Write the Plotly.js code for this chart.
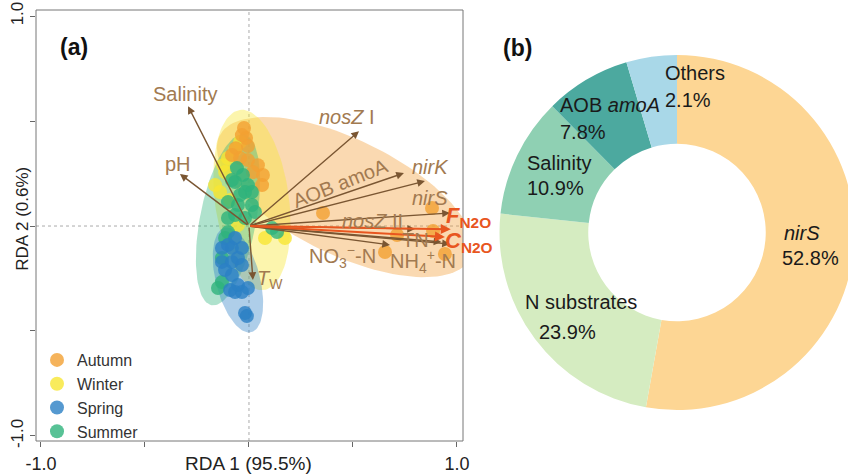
<!DOCTYPE html>
<html><head><meta charset="utf-8">
<script src="https://cdn.plot.ly/plotly-3.0.1.min.js"></script>
<style>html,body{margin:0;padding:0;overflow:hidden;background:#fff;width:848px;height:476px}#plot{width:860px;height:476px}</style>
</head><body><div id="plot"></div>
<script>
// ---------- Panel (a): RDA site scores ----------
const seasons = ['Autumn','Winter','Spring','Summer'];
const seasonColors = ['#f2a032','#f7e633','#2a7fc4','#2eb37c'];

const autumnX = [-0.024,-0.014,-0.005,-0.063,-0.082,-0.043,0.043,0.067,0.019,-0.005,-0.034,0.063,0.356,0.88,0.712,0.885,0.654,0.942];
const autumnY = [0.467,0.419,0.381,0.371,0.338,0.324,0.290,0.243,0.257,0.314,0.433,0.195,0.062,0.086,-0.043,-0.024,-0.124,-0.133];
const winterX = [-0.101,-0.125,-0.163,-0.115,-0.139,0.077,0.173,-0.067,-0.043,-0.091,-0.053];
const winterY = [0.324,0.290,0.195,0.257,0.162,-0.057,-0.057,0.362,0.400,0.124,0.005];
const springX = [-0.067,-0.130,-0.082,-0.034,-0.130,-0.082,-0.115,-0.034,-0.082,-0.053,-0.005,-0.067,-0.034,-0.019,-0.010,-0.101,-0.053,-0.091];
const springY = [-0.057,-0.105,-0.105,-0.105,-0.171,-0.171,-0.210,-0.186,-0.233,-0.281,-0.295,-0.314,-0.314,-0.414,-0.429,-0.090,-0.152,-0.305];
const summerX = [-0.058,-0.029,-0.067,-0.005,-0.019,0.014,-0.101,-0.053,0.014,0.029,-0.067,-0.019,-0.101,-0.101,-0.115,-0.130,-0.149,-0.130,-0.082,-0.043,0.111,0.135];
const summerY = [0.276,0.243,0.210,0.195,0.162,0.162,0.114,0.100,0.100,0.067,0.052,0.038,0.038,-0.029,-0.057,-0.152,-0.295,-0.267,0.219,0.148,-0.010,-0.029];

// confidence ellipses: centre x, centre y, semi-axis a, semi-axis b, angle (deg)
const ellCX = [0.4615, 0.014, -0.053, -0.101];
const ellCY = [0.138, 0.124, -0.257, 0.029];
const ellA  = [0.67, 0.433, 0.257, 0.414];
const ellB  = [0.276, 0.178, 0.106, 0.135];
const ellAng = [-25.6, 97.6, 104.5, 79];

// explanatory variable arrows
const envNames = ['Salinity','pH','<i>nosZ</i> I','AOB amoA','<i>nirK</i>','<i>nirS</i>','<i>nosZ</i> II','TN','NH<sub>4</sub><sup>+</sup>-N','NO<sub>3</sub><sup>−</sup>-N','<i>T</i><sub>W</sub>'];
const envX = [-0.293,-0.332,0.529,0.745,0.846,0.966,0.798,0.925,0.966,0.678,0.019];
const envY = [0.571,0.248,0.452,0.252,0.214,0.062,-0.014,-0.076,-0.086,-0.090,-0.257];
// response arrows
const respNames = ['<b><i>F</i><sub>N2O</sub></b>','<b><i>C</i><sub>N2O</sub></b>'];
const respX = [0.97, 0.942];
const respY = [-0.015, -0.052];

// axis ticks
const tickVals = [-1,-0.5,0,0.5,1];
const tickText = ['-1.0','','','','1.0'];

// ---------- Panel (b): donut ----------
const pieLabels = ['<i>nirS</i>','N substrates','Salinity','AOB <i>amoA</i>','Others'];
const pieValues = [52.8, 23.9, 10.9, 7.8, 4.6];
const pieText = ['52.8%','23.9%','10.9%','7.8%','2.1%'];
const pieColors = ['#fdd694','#d5ecc1','#8fd0b3','#4ca99f','#a9d8e8'];

// ---------- styling / layout helpers ----------
const W = 860, H = 476;
const FONT = 'Liberation Sans, Arial, sans-serif';
const brownText = '#a27a50', brownLine = '#7a5632', red = '#e8561f';
const seasonData = [[autumnX,autumnY],[winterX,winterY],[springX,springY],[summerX,summerY]];
const ellFill = ['rgba(242,160,60,0.40)','rgba(247,230,51,0.40)','rgba(42,127,196,0.38)','rgba(46,179,124,0.38)'];

function ellipse(i){
  const xs=[], ys=[]; const p = ellAng[i]*Math.PI/180;
  for(let k=0;k<=120;k++){
    const t = 2*Math.PI*k/120;
    const u = ellA[i]*Math.cos(t), v = ellB[i]*Math.sin(t);
    xs.push(ellCX[i] + u*Math.cos(p) - v*Math.sin(p));
    ys.push(ellCY[i] + u*Math.sin(p) + v*Math.cos(p));
  }
  return {x:xs,y:ys};
}

const traces = [];
[0,1,3,2].forEach(i=>{
  const e = ellipse(i);
  traces.push({type:'scatter',mode:'lines',x:e.x,y:e.y,fill:'toself',fillcolor:ellFill[i],
    line:{width:0,color:'rgba(0,0,0,0)'},hoverinfo:'skip',showlegend:false,xaxis:'x',yaxis:'y'});
});
const drawOrder = [1,0,3,2];
drawOrder.forEach(i=>{
  traces.push({type:'scatter',mode:'markers',name:seasons[i],x:seasonData[i][0],y:seasonData[i][1],
    marker:{size:14,color:seasonColors[i],opacity:0.8,line:{width:0}},legendrank:i+1,xaxis:'x',yaxis:'y'});
});
traces.push({type:'pie',labels:pieLabels,values:pieValues,sort:false,direction:'clockwise',rotation:0,hole:0.5,
  marker:{colors:pieColors,line:{width:0}},textinfo:'none',showlegend:false,hoverinfo:'skip',
  domain:{x:[(677-177.5)/W,(677+177.5)/W],y:[(476-232.5-177.5)/H,(476-232.5+177.5)/H]}});

const ann = [];
envX.forEach((x,i)=>{
  ann.push({x:x,y:envY[i],ax:0,ay:0,xref:'x',yref:'y',axref:'x',ayref:'y',text:'',showarrow:true,
    arrowhead:2,arrowsize:1.1,arrowwidth:1.4,arrowcolor:brownLine,standoff:0});
});
respX.forEach((x,i)=>{
  ann.push({x:x,y:respY[i],ax:0,ay:0,xref:'x',yref:'y',axref:'x',ayref:'y',text:'',showarrow:true,
    arrowhead:2,arrowsize:1.0,arrowwidth:2,arrowcolor:red,standoff:0});
});
const envShift = [[-3,12],[-2,10],[-12,14],[-63,-10],[6,14],[-20,15],[-42,8],[-26,2],[-27,-17],[-48,-12],[17,0]];
envNames.forEach((t,i)=>{
  ann.push({x:envX[i],y:envY[i],xref:'x',yref:'y',text:t,showarrow:false,xshift:envShift[i][0],yshift:envShift[i][1],
    textangle:(i===3?-21.7:0),font:{family:FONT,size:20,color:brownText},xanchor:'center',yanchor:'middle'});
});
const respShift = [[18,12],[24,-5]];
respNames.forEach((t,i)=>{
  ann.push({x:respX[i],y:respY[i],xref:'x',yref:'y',text:t,showarrow:false,xshift:respShift[i][0],yshift:respShift[i][1],
    font:{family:FONT,size:22,color:red},xanchor:'center',yanchor:'middle'});
});
ann.push({x:0,y:(476-463)/H,xref:'x',yref:'paper',text:'RDA 1 (95.5%)',showarrow:false,font:{family:FONT,size:19,color:'#222'},yanchor:'middle'});
ann.push({x:23/W,y:0.035,xref:'paper',yref:'y',text:'RDA 2 (0.6%)',showarrow:false,textangle:-90,font:{family:FONT,size:17,color:'#222'},xanchor:'center',yanchor:'middle'});
ann.push({x:58/W,y:1-32/H,xref:'paper',yref:'paper',text:'<b>(a)</b>',showarrow:false,font:{family:FONT,size:23,color:'#111'}});
ann.push({x:517/W,y:1-33/H,xref:'paper',yref:'paper',text:'<b>(b)</b>',showarrow:false,font:{family:FONT,size:23,color:'#111'}});
const pieLabPos = [[782,233,780,258],[523,302,537,332],[525,163,525,188],[558,105,558,132],[663,73,663,100]];
pieLabels.forEach((t,i)=>{
  const p = pieLabPos[i];
  ann.push({x:p[0]/W,y:1-p[1]/H,xref:'paper',yref:'paper',text:t,showarrow:false,xanchor:'left',yanchor:'middle',font:{family:FONT,size:20,color:'#1a1a1a'}});
  ann.push({x:p[2]/W,y:1-p[3]/H,xref:'paper',yref:'paper',text:pieText[i],showarrow:false,xanchor:'left',yanchor:'middle',font:{family:FONT,size:20,color:'#1a1a1a'}});
});

const layout = {
  width:W,height:H,margin:{l:0,r:0,t:0,b:0},paper_bgcolor:'#fff',plot_bgcolor:'#fff',
  font:{family:FONT,color:'#222'},
  xaxis:{domain:[36/W,463/W],range:[-1.024,1.029],tickvals:tickVals,ticktext:tickText,ticks:'outside',ticklen:5,tickcolor:'#666',
    showgrid:false,zeroline:false,showline:false,tickfont:{family:FONT,size:18,color:'#222'},fixedrange:true,ticklabelstandoff:1},
  yaxis:{domain:[35/H,466/H],range:[-1.024,1.029],tickvals:tickVals,ticktext:tickText,ticks:'outside',ticklen:5,tickcolor:'#666',
    showgrid:false,zeroline:false,showline:false,tickangle:-90,tickfont:{family:FONT,size:17,color:'#222'},fixedrange:true},
  shapes:[
    {type:'line',xref:'x',yref:'y domain',x0:0,x1:0,y0:0,y1:1,line:{color:'#aaa',width:1,dash:'dot'},layer:'below'},
    {type:'line',xref:'x domain',yref:'y',x0:0,x1:1,y0:0,y1:0,line:{color:'#aaa',width:1,dash:'dot'},layer:'below'},
    {type:'rect',xref:'x domain',yref:'y domain',x0:0,x1:1,y0:0,y1:1,line:{color:'#777',width:1},layer:'above'}
  ],
  annotations:ann,
  showlegend:true,
  legend:{x:37/W,y:1-343/H,xanchor:'left',yanchor:'top',bgcolor:'rgba(0,0,0,0)',font:{family:FONT,size:16,color:'#333'},
    traceorder:'normal',itemsizing:'trace',tracegroupgap:0}
};
Plotly.newPlot('plot',traces,layout,{staticPlot:true});
</script></body></html>
